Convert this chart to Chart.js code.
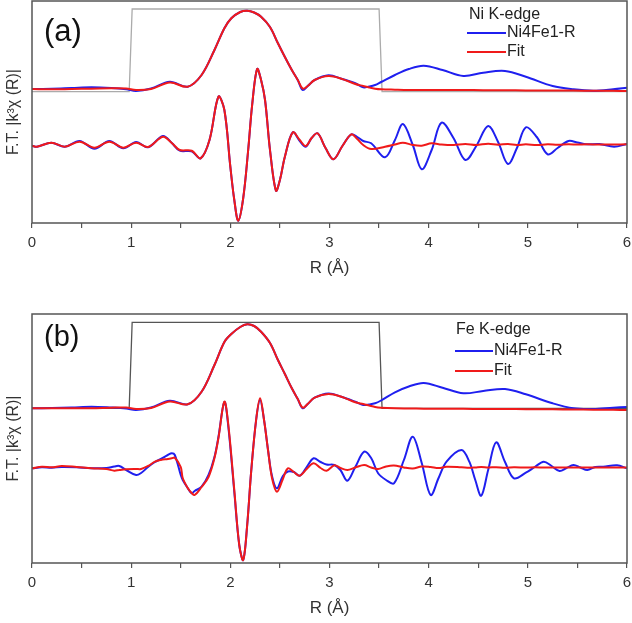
<!DOCTYPE html>
<html><head><meta charset="utf-8">
<script src="https://cdn.jsdelivr.net/npm/chart.js@4/dist/chart.umd.min.js"></script>
<style>
html,body{margin:0;padding:0;background:#fff;width:632px;height:623px;overflow:hidden}
#ca{position:absolute;left:0;top:0}
#cb{position:absolute;left:0;top:290px}
</style></head><body>
<canvas id="ca" width="632" height="280"></canvas>
<canvas id="cb" width="632" height="333"></canvas>
<script>
// ---------- x-axis ----------
const xTickValues = [0, 1, 2, 3, 4, 5, 6];

// ---------- Panel (a): Ni K-edge ----------
const niMagR = [0,0.2,0.4,0.6,0.8,0.95,1.05,1.2,1.39,1.57,1.71,1.84,1.94,2.01,2.10,2.17,2.24,2.31,2.40,2.48,2.55,2.62,2.68,2.73,2.78,2.85,2.99,3.12,3.26,3.34,3.40,3.46,3.52,3.66,3.80,3.95,4.14,4.35,4.55,4.77,4.98,5.25,5.46,5.66,5.86,6.0];
const niMagExp = [13.4,13.43,13.5,13.57,13.5,13.37,13.2,13.45,14.13,13.63,14.8,17.3,19.47,20.47,21.1,21.23,21.05,20.63,19.6,17.97,16.6,15.3,14.3,13.3,13.7,14.3,14.77,14.43,13.97,13.57,13.65,13.8,14.1,14.8,15.4,15.73,15.3,14.7,15.03,15.2,14.63,13.7,13.37,13.23,13.37,13.53];
const niMagFit = [13.4,13.37,13.4,13.43,13.47,13.45,13.3,13.4,14.05,13.63,14.8,17.3,19.47,20.47,21.1,21.23,21.05,20.63,19.6,17.97,16.6,15.3,14.3,13.43,13.7,14.3,14.7,14.43,13.9,13.7,13.55,13.43,13.37,13.33,13.3,13.3,13.3,13.3,13.28,13.27,13.26,13.25,13.24,13.23,13.22,13.2];

const niImR = [0,0.05,0.195,0.33,0.48,0.63,0.78,0.92,1.05,1.17,1.32,1.41,1.49,1.61,1.70,1.79,1.88,1.94,2.00,2.04,2.08,2.13,2.18,2.22,2.27,2.31,2.35,2.40,2.46,2.50,2.55,2.63,2.70,2.76,2.82,2.88,2.96,3.04,3.13,3.22,3.28,3.34,3.42,3.56,3.66,3.74,3.84,3.93,4.03,4.13,4.25,4.37,4.48,4.60,4.70,4.80,4.89,4.98,5.09,5.20,5.30,5.41,5.50,5.59,5.72,5.87,6.0];
const niImExp = [7.73,7.63,8.03,7.63,8.2,7.43,8.2,7.47,8.1,7.57,8.7,8.0,7.23,7.17,6.47,8.3,12.63,11.3,5.63,2.3,0.23,2.5,7.3,11.8,15.4,14.3,12.3,7.3,3.23,4.3,6.63,9.07,8.2,7.63,8.5,8.97,7.5,6.37,7.7,8.87,8.6,8.2,7.97,6.57,8.3,9.9,7.8,5.37,7.3,10.03,8.5,6.3,7.7,9.7,8.1,5.9,7.5,9.57,8.6,6.87,7.5,8.2,8.05,7.87,7.9,7.63,7.9];
const niImFit = [7.73,7.63,8.03,7.63,8.13,7.53,8.13,7.53,8.03,7.6,8.63,8.0,7.3,7.23,6.47,8.3,12.63,11.3,5.63,2.3,0.23,2.5,7.3,11.8,15.4,14.3,12.3,7.3,3.23,4.3,6.63,9.07,8.3,7.7,8.5,8.97,7.5,6.37,7.7,8.87,8.4,7.8,7.4,7.63,7.85,8.03,7.8,7.73,7.97,7.85,7.8,7.9,7.8,7.93,7.83,7.9,7.8,7.87,7.8,7.87,7.83,7.87,7.85,7.87,7.85,7.85,7.87];

const niWinR = [0, 0.98, 1.01, 3.50, 3.53, 6];
const niWin = [13.13, 13.13, 21.4, 21.4, 13.13, 13.13];

// ---------- Panel (b): Fe K-edge ----------
const feMagR = niMagR;
const feMagExp = [15.47,15.5,15.55,15.63,15.55,15.45,15.3,15.55,16.23,15.87,17.13,19.8,22.1,22.9,23.6,23.87,23.7,23.13,22.0,20.3,18.9,17.47,16.4,15.47,15.9,16.53,16.95,16.63,16.13,15.8,15.85,15.97,16.25,17.07,17.65,18.0,17.53,16.97,17.2,17.4,16.87,15.97,15.47,15.4,15.53,15.6];
const feMagFit = [15.47,15.47,15.47,15.47,15.53,15.55,15.4,15.5,16.15,15.87,17.13,19.8,22.1,22.9,23.6,23.87,23.7,23.13,22.0,20.3,18.9,17.47,16.4,15.53,15.9,16.53,16.9,16.63,16.07,15.9,15.75,15.6,15.53,15.47,15.45,15.43,15.43,15.42,15.4,15.4,15.38,15.37,15.35,15.33,15.32,15.3];

const feImR = [0,0.1,0.2,0.3,0.45,0.6,0.75,0.83,0.88,0.95,1.05,1.10,1.17,1.24,1.30,1.37,1.41,1.44,1.50,1.52,1.57,1.61,1.64,1.71,1.78,1.84,1.88,1.94,1.98,2.04,2.09,2.13,2.17,2.21,2.26,2.30,2.34,2.38,2.42,2.47,2.53,2.58,2.64,2.70,2.77,2.84,2.91,2.97,3.05,3.11,3.18,3.26,3.35,3.42,3.49,3.57,3.65,3.75,3.84,3.93,4.02,4.10,4.18,4.33,4.41,4.47,4.53,4.60,4.68,4.77,4.86,4.98,5.07,5.16,5.24,5.32,5.39,5.46,5.53,5.60,5.68,5.76,5.90,6.0];
const feImExp = [9.47,9.57,9.53,9.6,9.57,9.47,9.5,9.65,9.7,9.3,8.8,9.0,9.6,10.1,10.4,10.8,10.97,10.8,8.8,8.3,7.5,6.97,7.2,7.63,8.8,10.6,12.6,16.1,13.6,7.1,1.8,0.3,3.8,9.13,14.3,16.3,14.3,11.3,8.7,7.47,8.7,9.15,9.1,8.73,9.6,10.47,10.1,9.85,9.8,9.3,8.23,9.6,11.13,10.5,8.97,8.3,7.97,10.3,12.63,10.0,6.8,8.5,10.13,11.3,10.13,8.3,6.73,9.3,12.07,10.1,8.47,9.03,9.6,10.13,9.7,9.2,9.5,9.8,9.55,9.3,9.6,9.63,9.77,9.47];
const feImFit = [9.47,9.63,9.57,9.7,9.6,9.47,9.4,9.23,9.3,9.37,9.4,9.4,9.7,10.13,10.3,10.4,10.47,10.53,9.6,8.5,7.5,7.0,6.8,7.6,8.6,10.5,12.5,16.13,13.8,7.3,1.8,0.3,3.8,9.13,14.3,16.47,14.3,11.3,8.5,7.13,8.4,9.47,9.1,8.73,9.4,9.97,9.5,9.23,9.77,9.5,9.3,9.55,9.8,9.55,9.4,9.65,9.75,9.55,9.45,9.65,9.6,9.5,9.62,9.57,9.52,9.55,9.6,9.55,9.58,9.52,9.57,9.55,9.57,9.55,9.54,9.56,9.54,9.55,9.54,9.55,9.54,9.55,9.55,9.55];

const feWinR = [0, 0.98, 1.01, 3.50, 3.53, 6];
const feWin = [15.47, 15.47, 24.07, 24.07, 15.47, 15.47];

const seriesNames = ['Ni4Fe1-R', 'Fit'];

// ---------- helpers ----------
Chart.defaults.font.family = "'Liberation Sans', Arial, sans-serif";
const BLUE = '#1f1fef', RED = '#f01a1a', AX = '#555';
const pts = (r, v) => r.map((x, i) => ({x, y: v[i]}));
const line = (r, v, color, w, t) => ({
  data: pts(r, v), borderColor: color, borderWidth: w, pointRadius: 0,
  fill: false, tension: t
});

const framePlugin = {
  id: 'frame',
  afterDraw(chart, args, o) {
    const {ctx, chartArea: a} = chart;
    ctx.save();
    ctx.strokeStyle = AX; ctx.lineWidth = 1.5;
    ctx.strokeRect(a.left, a.top, a.right - a.left, a.bottom - a.top);
    // panel label
    ctx.fillStyle = '#111';
    ctx.textBaseline = 'middle'; ctx.textAlign = 'left';
    ctx.font = o.labelSize + "px 'Liberation Sans', Arial, sans-serif";
    ctx.fillText(o.label, a.left + 12, a.top + o.labelDy);
    // legend
    ctx.font = "16px 'Liberation Sans', Arial, sans-serif";
    ctx.fillStyle = '#222';
    ctx.fillText(o.title, a.right - o.titleDx, a.top + o.legDy[0]);
    const cols = [BLUE, RED];
    for (let i = 0; i < 2; i++) {
      const y = a.top + o.legDy[i + 1];
      ctx.strokeStyle = cols[i]; ctx.lineWidth = 2;
      ctx.beginPath();
      ctx.moveTo(a.right - o.lineDx, y); ctx.lineTo(a.right - o.lineDx + o.lineLen, y);
      ctx.stroke();
      ctx.fillText(seriesNames[i], a.right - o.lineDx + o.lineLen + 1, y);
    }
    ctx.restore();
  }
};

function panel(id, cfg) {
  return new Chart(document.getElementById(id), {
    type: 'line',
    data: {
      datasets: [
        line(cfg.imR, cfg.imFit, RED, 2, 0.35),
        line(cfg.magR, cfg.magFit, RED, 2, 0.35),
        line(cfg.imR, cfg.imExp, BLUE, 2, 0.35),
        line(cfg.magR, cfg.magExp, BLUE, 2, 0.35),
        line(cfg.winR, cfg.win, cfg.winColor, 1.3, 0)
      ]
    },
    options: {
      responsive: false, animation: false,
      layout: {padding: cfg.padding},
      plugins: {legend: {display: false}, tooltip: {enabled: false}, frame: cfg.frame},
      scales: {
        x: {
          type: 'linear', min: 0, max: 6,
          afterBuildTicks: s => { const t = []; for (let i = 0; i < xTickValues.length; i++) { t.push({value: xTickValues[i]}); if (i < xTickValues.length - 1) t.push({value: (xTickValues[i] + xTickValues[i + 1]) / 2}); } s.ticks = t; },
          ticks: {autoSkip: false, maxRotation: 0, padding: 6, color: '#333', font: {size: 15},
                  callback: v => xTickValues.includes(v) ? String(v) : ''},
          grid: {drawOnChartArea: false, drawTicks: true, tickLength: 5, color: AX, lineWidth: 1.2},
          border: {display: false},
          title: {display: true, text: 'R (Å)', color: '#333', font: {size: 17}, padding: {top: 0, bottom: 1}},
          afterFit: s => { s.height = 57; s.paddingRight = 0; s.paddingLeft = 0; }
        },
        y: {
          type: 'linear', min: 0, max: cfg.yMax,
          ticks: {display: false},
          grid: {display: false},
          border: {display: false},
          title: {display: true, text: 'F.T. |k³χ (R)|', color: '#333', font: {size: 16}, padding: {top: 4, bottom: 0}},
          afterFit: s => { s.width = 32; }
        }
      }
    },
    plugins: [framePlugin]
  });
}

panel('ca', {
  magR: niMagR, magExp: niMagExp, magFit: niMagFit,
  imR: niImR, imExp: niImExp, imFit: niImFit,
  winR: niWinR, win: niWin, winColor: '#ababab', yMax: 22.2,
  padding: {left: 0, right: 5, top: 1, bottom: 0},
  frame: {label: '(a)', labelSize: 31, labelDy: 31, title: 'Ni K-edge', titleDx: 158, legDy: [14, 32, 51], lineDx: 160, lineLen: 39}
});
panel('cb', {
  magR: feMagR, magExp: feMagExp, magFit: feMagFit,
  imR: feImR, imExp: feImExp, imFit: feImFit,
  winR: feWinR, win: feWin, winColor: '#555555', yMax: 24.9,
  padding: {left: 0, right: 5, top: 24, bottom: 3},
  frame: {label: '(b)', labelSize: 29, labelDy: 24, title: 'Fe K-edge', titleDx: 171, legDy: [16, 37, 57], lineDx: 172, lineLen: 38}
});
</script>
</body></html>
